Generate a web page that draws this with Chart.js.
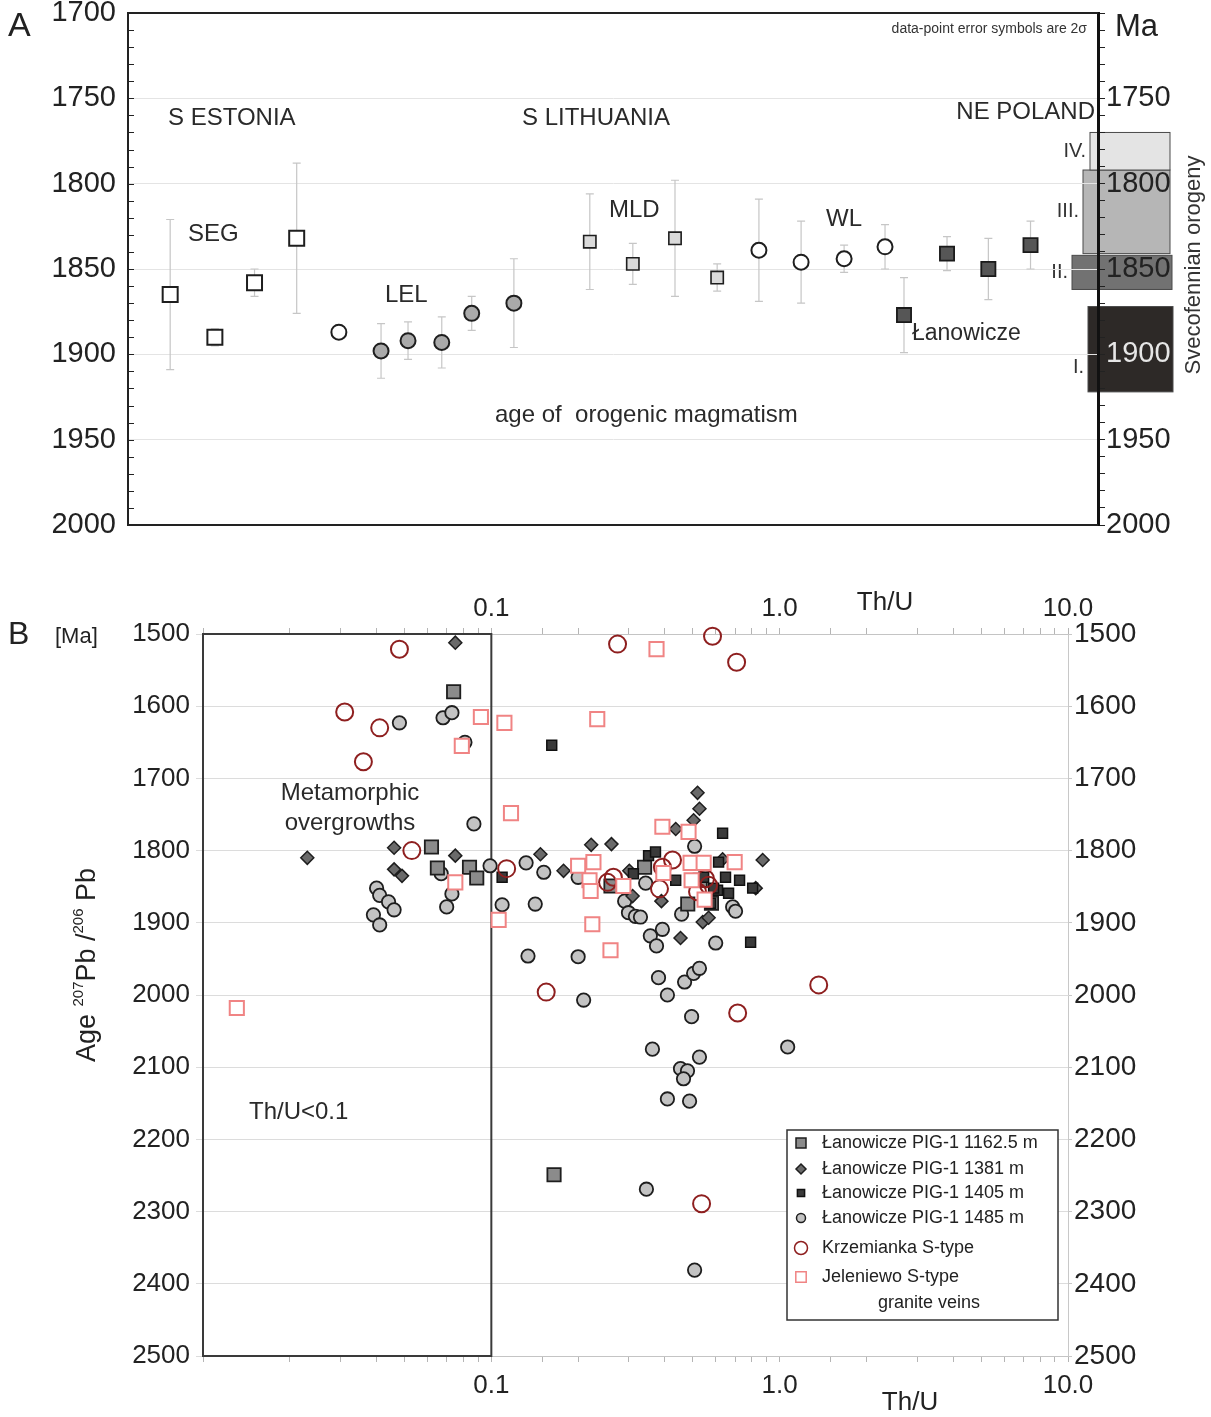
<!DOCTYPE html>
<html>
<head>
<meta charset="utf-8">
<script src="https://cdn.jsdelivr.net/npm/chart.js@4.4.1/dist/chart.umd.min.js"></script>
<style>
  body { margin: 0; background: #fff; width: 1211px; height: 1417px; position: relative; overflow: hidden; }
  .box { position: absolute; left: 0; width: 1211px; }
  #boxA { top: 0; height: 570px; }
  #boxB { top: 580px; height: 837px; }
</style>
</head>
<body>
<div class="box" id="boxA"><canvas id="chartA"></canvas></div>
<div class="box" id="boxB"><canvas id="chartB"></canvas></div>
<script>
// ---- Panel A: sample order along the transect, age (Ma), 2 sigma error ----
const segX = [1, 2.06, 3, 4];
const segAge = [1865, 1890, 1858, 1832];
const segErr = [44, 5, 8, 44];
const lelOpenX = [5];
const lelOpenAge = [1887];
const lelOpenErr = [0];
const lelX = [6, 6.64, 7.44, 8.15, 9.15];
const lelAge = [1898, 1892, 1893, 1876, 1870];
const lelErr = [16, 11, 15, 10, 26];
const mldX = [10.95, 11.97, 12.97, 13.97];
const mldAge = [1834, 1847, 1832, 1855];
const mldErr = [28, 12, 34, 8];
const wlX = [14.96, 15.96, 16.98, 17.95];
const wlAge = [1839, 1846, 1844, 1837];
const wlErr = [30, 24, 8, 13];
const lanX = [18.4, 19.42, 20.4, 21.4];
const lanAge = [1877, 1841, 1850, 1836];
const lanErr = [22, 10, 18, 14];

// Svecofennian orogeny phases (Ma)
const phaseNames = ['I.', 'II.', 'III.', 'IV.'];
const phaseFrom = [1872, 1842, 1792, 1770];
const phaseTo = [1922, 1862, 1841, 1792];

// ---- Panel B: Th/U vs 207Pb/206Pb age ----
const pig1162ThU = [0.074, 0.062, 0.065, 0.084, 0.089, 0.26, 0.34, 0.48, 0.58, 0.53, 0.165];
const pig1162Age = [1580, 1795, 1824, 1823, 1838, 1849, 1823, 1874, 1873, 1841, 2249];

const pig1381ThU = [0.075, 0.023, 0.046, 0.075, 0.046, 0.049, 0.148, 0.178, 0.222, 0.261, 0.301, 0.309,
  0.436, 0.519, 0.527, 0.503, 0.389, 0.453, 0.541, 0.567, 0.634, 0.873, 0.826];
const pig1381Age = [1512, 1810, 1796, 1807, 1826, 1835, 1805, 1828, 1792, 1791, 1828, 1863,
  1770, 1720, 1742, 1758, 1870, 1921, 1899, 1893, 1812, 1813, 1852];

const pig1405ThU = [0.109, 0.162, 0.311, 0.351, 0.371, 0.436, 0.545, 0.614, 0.634, 0.649, 0.665, 0.609,
  0.726, 0.806, 0.793, 0.576, 0.59];
const pig1405Age = [1837, 1654, 1832, 1807, 1802, 1841, 1837, 1816, 1776, 1837, 1859, 1855,
  1841, 1852, 1927, 1873, 1852];

const pig1485ThU = [0.068, 0.073, 0.048, 0.081, 0.087, 0.067, 0.099, 0.040, 0.041, 0.044, 0.046, 0.039,
  0.041, 0.073, 0.070, 0.109, 0.132, 0.152, 0.142, 0.134, 0.200, 0.209, 0.200, 0.343, 0.290, 0.299,
  0.316, 0.329, 0.392, 0.356, 0.374, 0.380, 0.408, 0.468, 0.503, 0.527, 0.495, 0.362, 0.527, 0.453,
  0.479, 0.464, 0.408, 0.487, 1.066, 0.600, 0.457, 0.687, 0.703, 0.507, 0.345, 0.507];
const pig1485Age = [1616, 1609, 1623, 1650, 1763, 1832, 1821, 1852, 1862, 1871, 1882, 1889,
  1903, 1860, 1878, 1875, 1817, 1830, 1874, 1946, 1947, 2007, 1837, 1845, 1870, 1886,
  1891, 1892, 1909, 1918, 1932, 1976, 2000, 1982, 1970, 1963, 2030, 2075, 2086, 2102,
  2105, 2116, 2144, 2147, 2072, 1928, 1888, 1878, 1884, 1794, 2269, 2381];

const krzThU = [0.048, 0.031, 0.041, 0.036, 0.053, 0.113, 0.274, 0.585, 0.709, 0.155, 0.715, 1.366,
  0.536, 0.253, 0.265, 0.383, 0.425, 0.392, 0.519, 0.553, 0.567];
const krzAge = [1521, 1608, 1630, 1677, 1800, 1825, 1514, 1503, 1539, 1996, 2025, 1986,
  2289, 1844, 1837, 1853, 1813, 1823, 1857, 1839, 1848];

const jelThU = [0.0131, 0.079, 0.075, 0.092, 0.111, 0.117, 0.106, 0.374, 0.233, 0.200, 0.226, 0.219,
  0.221, 0.224, 0.259, 0.287, 0.395, 0.392, 0.483, 0.698, 0.491, 0.545, 0.495, 0.549];
const jelAge = [2018, 1655, 1844, 1615, 1623, 1748, 1896, 1521, 1618, 1821, 1816, 1841,
  1856, 1902, 1938, 1849, 1831, 1767, 1774, 1816, 1817, 1817, 1841, 1868];

const ageTicksB = [1500, 2500];
const thuLabels = [0.1, 1, 10];

// ---------------------------------------------------------------
const sans = "'Liberation Sans', Arial, sans-serif";
const narrow = "'Liberation Sans Narrow', 'Liberation Sans', Arial, sans-serif";
Chart.defaults.font.family = sans;
Chart.defaults.color = '#222';

function pts(xs, ys) {
    return xs.map((x, i) => ({ x: x, y: ys[i] }));
}

function text(ctx, str, x, y, size, align, color, family) {
    ctx.font = size + 'px ' + (family || sans);
    ctx.fillStyle = color || '#2a2a2a';
    ctx.textAlign = align || 'left';
    ctx.textBaseline = 'middle';
    ctx.fillText(str, x, y);
}

function marker(ctx, style, x, y, r, fill, stroke, lw) {
    ctx.beginPath();
    if (style === 'circle') {
        ctx.arc(x, y, r, 0, Math.PI * 2);
    } else if (style === 'rectRot') {
        ctx.moveTo(x, y - r); ctx.lineTo(x + r, y); ctx.lineTo(x, y + r); ctx.lineTo(x - r, y); ctx.closePath();
    } else {
        ctx.rect(x - r, y - r, 2 * r, 2 * r);
    }
    ctx.fillStyle = fill; ctx.fill();
    ctx.strokeStyle = stroke; ctx.lineWidth = lw; ctx.stroke();
}

// keep label overflow from pushing the plot area around
function fixWidth(w) {
    return s => { s.width = w; s.paddingTop = 0; s.paddingBottom = 0; };
}

// error bars for panel A
const errorBars = {
    id: 'errorBars',
    beforeDatasetsDraw(chart) {
        const ctx = chart.ctx, y = chart.scales.y;
        ctx.save();
        ctx.strokeStyle = '#c6c6c6';
        ctx.lineWidth = 1.2;
        chart.data.datasets.forEach((ds, i) => {
            if (!ds.errors) return;
            chart.getDatasetMeta(i).data.forEach((pt, j) => {
                const e = ds.errors[j];
                if (!e) return;
                const v = ds.data[j].y;
                const y1 = y.getPixelForValue(v - e), y2 = y.getPixelForValue(v + e);
                ctx.beginPath();
                ctx.moveTo(pt.x, y1); ctx.lineTo(pt.x, y2);
                ctx.moveTo(pt.x - 4, y1); ctx.lineTo(pt.x + 4, y1);
                ctx.moveTo(pt.x - 4, y2); ctx.lineTo(pt.x + 4, y2);
                ctx.stroke();
            });
        });
        ctx.restore();
    }
};

// orogeny phase boxes on the right axis
const phaseBars = {
    id: 'phaseBars',
    beforeDraw(chart) {
        const ctx = chart.ctx, y = chart.scales.y2, ax = chart.chartArea.right;
        const fills = ['#2d2927', '#727272', '#b6b6b6', '#e4e4e4'];
        const ext = [[-10, 75], [-26, 74], [-15, 72], [-8, 72]];
        const labelDy = [18, 0, 0, 0];
        ctx.save();
        phaseFrom.forEach((from, i) => {
            const top = y.getPixelForValue(from), bot = y.getPixelForValue(phaseTo[i]);
            const left = ax + ext[i][0], w = ext[i][1] - ext[i][0];
            ctx.fillStyle = fills[i];
            ctx.fillRect(left, top, w, bot - top);
            ctx.strokeStyle = '#4a4a4a';
            ctx.lineWidth = 1;
            ctx.strokeRect(left, top, w, bot - top);
            text(ctx, phaseNames[i], left - 4, (top + bot) / 2 + labelDy[i], 20, 'right', '#333');
        });
        ctx.restore();
    }
};

// frame, inner ticks and texts of panel A
const frameA = {
    id: 'frameA',
    afterDraw(chart) {
        const ctx = chart.ctx, a = chart.chartArea, y = chart.scales.y;
        ctx.save();
        ctx.strokeStyle = '#222';
        ctx.lineWidth = 2;
        ctx.beginPath();
        ctx.moveTo(a.left, a.top); ctx.lineTo(a.right, a.top);
        ctx.moveTo(a.left, a.bottom); ctx.lineTo(a.right, a.bottom);
        ctx.stroke();
        ctx.lineWidth = 1;
        ctx.beginPath();
        for (let v = y.min + 10; v < y.max; v += 10) {
            const py = Math.round(y.getPixelForValue(v)) + 0.5;
            ctx.moveTo(a.left, py); ctx.lineTo(a.left + 6, py);
        }
        ctx.stroke();

        text(ctx, 'A', 8, 27, 34, 'left', '#222');
        text(ctx, 'S ESTONIA', 168, 118, 24);
        text(ctx, 'S LITHUANIA', 522, 118, 24);
        text(ctx, 'NE POLAND', 1095, 112, 24, 'right');
        text(ctx, 'SEG', 188, 234, 24);
        text(ctx, 'LEL', 385, 295, 24);
        text(ctx, 'MLD', 609, 210, 24);
        text(ctx, 'WL', 826, 219, 24);
        text(ctx, 'Łanowicze', 912, 334, 23);
        text(ctx, 'age of  orogenic magmatism', 495, 415, 24);
        text(ctx, 'data-point error symbols are 2σ', 1087, 29, 14, 'right', '#333');
        text(ctx, 'Ma', 1115, 27, 31, 'left', '#222');

        ctx.translate(1194, 265);
        ctx.rotate(-Math.PI / 2);
        text(ctx, 'Svecofennian orogeny', 0, 0, 22, 'center', '#333');
        ctx.restore();
    }
};

const chartA = new Chart(document.getElementById('chartA'), {
    type: 'scatter',
    data: {
        datasets: [
            { label: 'SEG', data: pts(segX, segAge), errors: segErr, pointStyle: 'rect', pointRadius: 10.6,
              backgroundColor: '#fff', borderColor: '#1e1e1e', borderWidth: 2 },
            { label: 'LEL open', data: pts(lelOpenX, lelOpenAge), errors: lelOpenErr, pointStyle: 'circle', pointRadius: 7.5,
              backgroundColor: '#fff', borderColor: '#1e1e1e', borderWidth: 2 },
            { label: 'LEL', data: pts(lelX, lelAge), errors: lelErr, pointStyle: 'circle', pointRadius: 7.5,
              backgroundColor: '#aaaaaa', borderColor: '#1e1e1e', borderWidth: 2 },
            { label: 'MLD', data: pts(mldX, mldAge), errors: mldErr, pointStyle: 'rect', pointRadius: 8.7,
              backgroundColor: '#dadada', borderColor: '#1e1e1e', borderWidth: 1.6 },
            { label: 'WL', data: pts(wlX, wlAge), errors: wlErr, pointStyle: 'circle', pointRadius: 7.5,
              backgroundColor: '#fff', borderColor: '#1e1e1e', borderWidth: 2 },
            { label: 'Łanowicze', data: pts(lanX, lanAge), errors: lanErr, pointStyle: 'rect', pointRadius: 10,
              backgroundColor: '#565656', borderColor: '#1a1a1a', borderWidth: 1.8 }
        ]
    },
    options: {
        responsive: true,
        maintainAspectRatio: false,
        animation: false,
        events: [],
        layout: { padding: { top: 13, bottom: 45, left: 0, right: 0 } },
        plugins: { legend: { display: false }, tooltip: { enabled: false } },
        scales: {
            x: { type: 'linear', min: 0, max: 23, display: false },
            y: {
                position: 'left', reverse: true, min: 1700, max: 2000,
                ticks: { stepSize: 50, padding: 12, color: '#222', font: { size: 29 }, callback: v => String(v) },
                grid: { color: '#e4e4e4', drawTicks: false },
                border: { color: '#222', width: 2 },
                afterFit: fixWidth(128)
            },
            y2: {
                position: 'right', reverse: true, min: 1700, max: 2000,
                ticks: {
                    stepSize: 10, maxTicksLimit: 100, autoSkip: false, padding: 1,
                    font: { size: 29 },
                    color: c => (c.tick && c.tick.value === 1900) ? '#e6e6e6' : '#222',
                    callback: v => (v % 50 === 0 && v > 1700) ? String(v) : ''
                },
                grid: { drawOnChartArea: false, tickLength: 7, color: '#222' },
                border: { color: '#111', width: 3 },
                afterFit: fixWidth(113)
            }
        }
    },
    plugins: [phaseBars, errorBars, frameA]
});

// ---- Panel B ----
const boxB = {
    id: 'boxB',
    beforeDatasetsDraw(chart) {
        const ctx = chart.ctx, a = chart.chartArea, x = chart.scales.x;
        ctx.save();
        ctx.strokeStyle = '#3a3a3a';
        ctx.lineWidth = 2;
        ctx.strokeRect(a.left, a.top, x.getPixelForValue(0.1) - a.left, a.bottom - a.top);
        ctx.restore();
    }
};

const textsB = {
    id: 'textsB',
    afterDraw(chart) {
        const ctx = chart.ctx;
        ctx.save();
        text(ctx, 'B', 8, 55, 32, 'left', '#222');
        text(ctx, '[Ma]', 55, 57, 22, 'left', '#222');
        text(ctx, 'Metamorphic', 350, 213, 24, 'center', '#2a2a2a');
        text(ctx, 'overgrowths', 350, 243, 24, 'center', '#2a2a2a');
        text(ctx, 'Th/U<0.1', 249, 532, 24, 'left', '#2a2a2a');
        text(ctx, 'Th/U', 885, 23, 26, 'center', '#222', narrow);
        text(ctx, 'Th/U', 910, 823, 26, 'center', '#222', narrow);

        // y title with superscripts
        ctx.translate(88, 385);
        ctx.rotate(-Math.PI / 2);
        const parts = [['Age ', false], ['207', true], ['Pb /', false], ['206', true], [' Pb', false]];
        let total = 0;
        parts.forEach(p => {
            ctx.font = (p[1] ? 15 : 27) + 'px ' + narrow;
            total += ctx.measureText(p[0]).width;
        });
        let cx = -total / 2;
        parts.forEach(p => {
            ctx.font = (p[1] ? 15 : 27) + 'px ' + narrow;
            ctx.fillStyle = '#222';
            ctx.textAlign = 'left';
            ctx.textBaseline = 'middle';
            ctx.fillText(p[0], cx, p[1] ? -9 : 0);
            cx += ctx.measureText(p[0]).width;
        });
        ctx.restore();
    }
};

const legendB = {
    id: 'legendB',
    afterDraw(chart) {
        const ctx = chart.ctx, a = chart.chartArea;
        const left = a.right - 281, top = a.bottom - 226, w = 271, h = 190;
        const rowY = [13, 39, 63, 88, 118, 147];
        const sizes = [5, 5, 3.6, 4.5, 6.5, 5.2];
        ctx.save();
        ctx.fillStyle = '#fff';
        ctx.fillRect(left, top, w, h);
        ctx.strokeStyle = '#333';
        ctx.lineWidth = 1.5;
        ctx.strokeRect(left, top, w, h);
        chart.data.datasets.forEach((ds, i) => {
            const yy = top + rowY[i];
            marker(ctx, ds.pointStyle, left + 14, yy, sizes[i], ds.backgroundColor, ds.borderColor, 1.5);
            text(ctx, ds.label, left + 35, yy, 18, 'left', '#222');
            if (ds.subLabel) text(ctx, ds.subLabel, left + 91, yy + 26, 18, 'left', '#222');
        });
        ctx.restore();
    }
};

function thuTick(v) {
    const l = Math.log10(v);
    if (Math.abs(l - Math.round(l)) > 1e-6) return '';
    return thuLabels.some(t => Math.abs(t - v) < 1e-9) ? v.toFixed(1) : '';
}

const chartB = new Chart(document.getElementById('chartB'), {
    type: 'scatter',
    data: {
        datasets: [
            { label: 'Łanowicze PIG-1 1162.5 m', data: pts(pig1162ThU, pig1162Age), order: 3, clip: false,
              pointStyle: 'rect', pointRadius: 9.4, backgroundColor: '#8b8b8b', borderColor: '#1e1e1e', borderWidth: 1.8 },
            { label: 'Łanowicze PIG-1 1381 m', data: pts(pig1381ThU, pig1381Age), order: 4, clip: false,
              pointStyle: 'rectRot', pointRadius: 6.5, backgroundColor: '#6a6a6a', borderColor: '#1e1e1e', borderWidth: 1.5 },
            { label: 'Łanowicze PIG-1 1405 m', data: pts(pig1405ThU, pig1405Age), order: 2, clip: false,
              pointStyle: 'rect', pointRadius: 7, backgroundColor: '#3a3a3a', borderColor: '#111', borderWidth: 1.5 },
            { label: 'Łanowicze PIG-1 1485 m', data: pts(pig1485ThU, pig1485Age), order: 5, clip: false,
              pointStyle: 'circle', pointRadius: 6.7, backgroundColor: '#c3c3c3', borderColor: '#1e1e1e', borderWidth: 1.8 },
            { label: 'Krzemianka S-type', data: pts(krzThU, krzAge), order: 1, clip: false,
              pointStyle: 'circle', pointRadius: 8.5, backgroundColor: 'rgba(255,255,255,0)', borderColor: '#8e1f1f', borderWidth: 2 },
            { label: 'Jeleniewo S-type', subLabel: 'granite veins', data: pts(jelThU, jelAge), order: 0, clip: false,
              pointStyle: 'rect', pointRadius: 10, backgroundColor: '#fff', borderColor: '#f08484', borderWidth: 2 }
        ]
    },
    options: {
        responsive: true,
        maintainAspectRatio: false,
        animation: false,
        events: [],
        layout: { padding: 0 },
        plugins: { legend: { display: false }, tooltip: { enabled: false } },
        scales: {
            x: {
                type: 'logarithmic', position: 'bottom', min: 0.01, max: 10,
                ticks: { autoSkip: false, maxRotation: 0, padding: 8, callback: thuTick,
                         font: { size: 26, family: narrow }, color: '#222' },
                grid: { drawOnChartArea: false, tickLength: 6, color: '#b5b5b5' },
                border: { color: '#c4c4c4', width: 1 },
                afterFit: s => { s.height = 61; }
            },
            x2: {
                type: 'logarithmic', position: 'top', min: 0.01, max: 10,
                ticks: { autoSkip: false, maxRotation: 0, padding: 4, callback: thuTick,
                         font: { size: 26, family: narrow }, color: '#222' },
                grid: { drawOnChartArea: false, tickLength: 6, color: '#b5b5b5' },
                border: { color: '#c4c4c4', width: 1 },
                afterFit: s => { s.height = 54; }
            },
            y: {
                position: 'left', reverse: true, min: ageTicksB[0], max: ageTicksB[1],
                ticks: { stepSize: 100, padding: 6, color: '#222', font: { size: 26 }, callback: v => String(v) },
                grid: { color: '#dcdcdc', tickLength: 7 },
                border: { color: '#444', width: 2 },
                afterFit: fixWidth(203)
            },
            y2: {
                position: 'right', reverse: true, min: ageTicksB[0], max: ageTicksB[1],
                ticks: { stepSize: 100, padding: 2, color: '#222', font: { size: 28 }, callback: v => String(v) },
                grid: { drawOnChartArea: false, tickLength: 4, color: '#c8c8c8' },
                border: { color: '#c8c8c8', width: 1 },
                afterFit: fixWidth(143)
            }
        }
    },
    plugins: [boxB, textsB, legendB]
});
</script>
</body>
</html>
